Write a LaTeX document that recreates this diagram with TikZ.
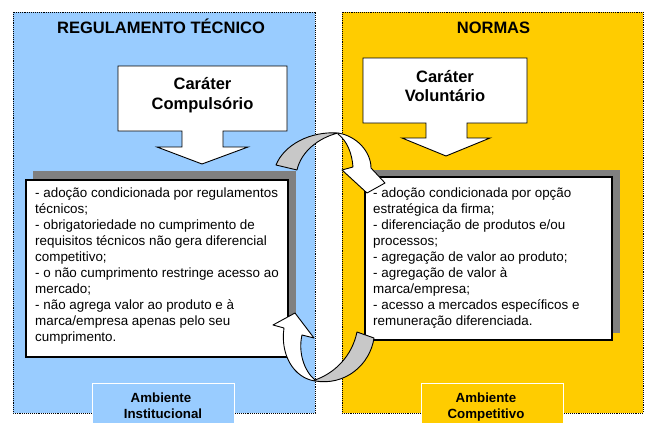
\documentclass[tikz,border=0pt]{standalone}
\usepackage{fontspec}
\setmainfont{Liberation Sans}
\definecolor{panelblue}{HTML}{99CCFF}
\definecolor{panelyellow}{HTML}{FFCC00}
\definecolor{shadowgray}{HTML}{808080}
\definecolor{arrowgray}{HTML}{C8C8C8}
\tikzset{
  panel/.style={draw=black, densely dotted, line width=0.9pt},
  shadowbox/.style={fill=shadowgray},
  textbox/.style={fill=white, draw=black, line width=1.3pt},
  callout/.style={fill=white, draw=black, line width=0.9pt, line join=miter},
  labelbox/.style={draw=white, line width=0.8pt},
  arrowpart/.style={draw=black, line width=0.9pt, line join=round},
  titletext/.style={font=\fontsize{16.5}{19}\selectfont\bfseries, anchor=base, inner sep=0pt},
  calltext/.style={font=\fontsize{16.5}{19.5}\selectfont\bfseries, anchor=base, inner sep=0pt},
  bodytext/.style={font=\fontsize{13.4}{16}\selectfont, anchor=north west, inner sep=0pt, align=left},
  labeltext/.style={font=\fontsize{13.3}{16.5}\selectfont\bfseries, anchor=base, inner sep=0pt},
}
\begin{document}
\begin{tikzpicture}[x=1pt,y=-1pt]
\useasboundingbox (0,0) rectangle (646,423);
\fill[white] (0,0) rectangle (646,423);

% panels
\fill[panelblue] (13,12) rectangle (315,413);
\draw[panel] (13,12) rectangle (315,413);
\fill[panelyellow] (342,12) rectangle (643,413);
\draw[panel] (342,12) rectangle (643,413);

% bottom labels
\draw[labelbox, fill=panelblue] (92,383) rectangle (234,426);
\draw[labelbox, fill=panelyellow] (421,383) rectangle (563,426);
\node[labeltext] (amb1) at (161,402) {Ambiente};
\node[labeltext] (inst) at (163,418.5) {Institucional};
\node[labeltext] (amb2) at (486,402) {Ambiente};
\node[labeltext] (comp) at (486,418.5) {Competitivo};

% titles
\node[titletext] (t1) at (161,33.3) {REGULAMENTO TÉCNICO};
\node[titletext] (t2) at (493.5,33.3) {NORMAS};

% callouts
\draw[callout] (118,66) -- (287,66) -- (287,131) -- (223,131) -- (223,147) -- (248,147)
  -- (202,164) -- (157,147) -- (182,147) -- (182,131) -- (118,131) -- cycle;
\node[calltext] (c1a) at (202.5,89) {Caráter};
\node[calltext] (c1b) at (202.5,109) {Compulsório};

\draw[callout] (363,58) -- (527,58) -- (527,123) -- (467,123) -- (467,138) -- (490,138)
  -- (446,156) -- (402,138) -- (426,138) -- (426,123) -- (363,123) -- cycle;
\node[calltext] (c2a) at (445,82.5) {Caráter};
\node[calltext] (c2b) at (445,101.5) {Voluntário};

% text boxes
\fill[shadowbox] (33,171) rectangle (296,349);
\draw[textbox] (26,180) rectangle (288,357);
\fill[shadowbox] (373,170) rectangle (620,333);
\draw[textbox] (365,177) rectangle (612,340);

\node[bodytext] (lefttext) at (35,187.5) {- adoção condicionada por regulamentos\\
técnicos;\\
- obrigatoriedade no cumprimento de\\
requisitos técnicos não gera diferencial\\
competitivo;\\
- o não cumprimento restringe acesso ao\\
mercado;\\
- não agrega valor ao produto e à\\
marca/empresa apenas pelo seu\\
cumprimento.};

\node[bodytext] (righttext) at (373,187.5) {- adoção condicionada por opção\\
estratégica da firma;\\
- diferenciação de produtos e/ou\\
processos;\\
- agregação de valor ao produto;\\
- agregação de valor à\\
marca/empresa;\\
- acesso a mercados específicos e\\
remuneração diferenciada.};

% top curved arrow
\draw[arrowpart, fill=arrowgray] (276,165) .. controls (284,145) and (310,131) .. (338,133)
  .. controls (318,138) and (301,152) .. (297,170) -- cycle;
\draw[arrowpart, fill=white] (338,133) .. controls (357,136) and (371,152) .. (371,168)
  -- (385,183) -- (367,193) -- (342,170) -- (353,167)
  .. controls (352,153) and (347,141) .. (338,134) -- cycle;

% bottom curved arrow
\draw[arrowpart, fill=white] (315,381) .. controls (294,378) and (280,355) .. (284,328)
  -- (273,325) -- (295,313) -- (314,338) -- (302,335)
  .. controls (298,352) and (304,371) .. (315,380) -- cycle;
\draw[arrowpart, fill=arrowgray] (315,381) .. controls (345,386) and (370,365) .. (374,338)
  -- (357,332) .. controls (352,356) and (335,373) .. (315,380) -- cycle;
\end{tikzpicture}
\end{document}
